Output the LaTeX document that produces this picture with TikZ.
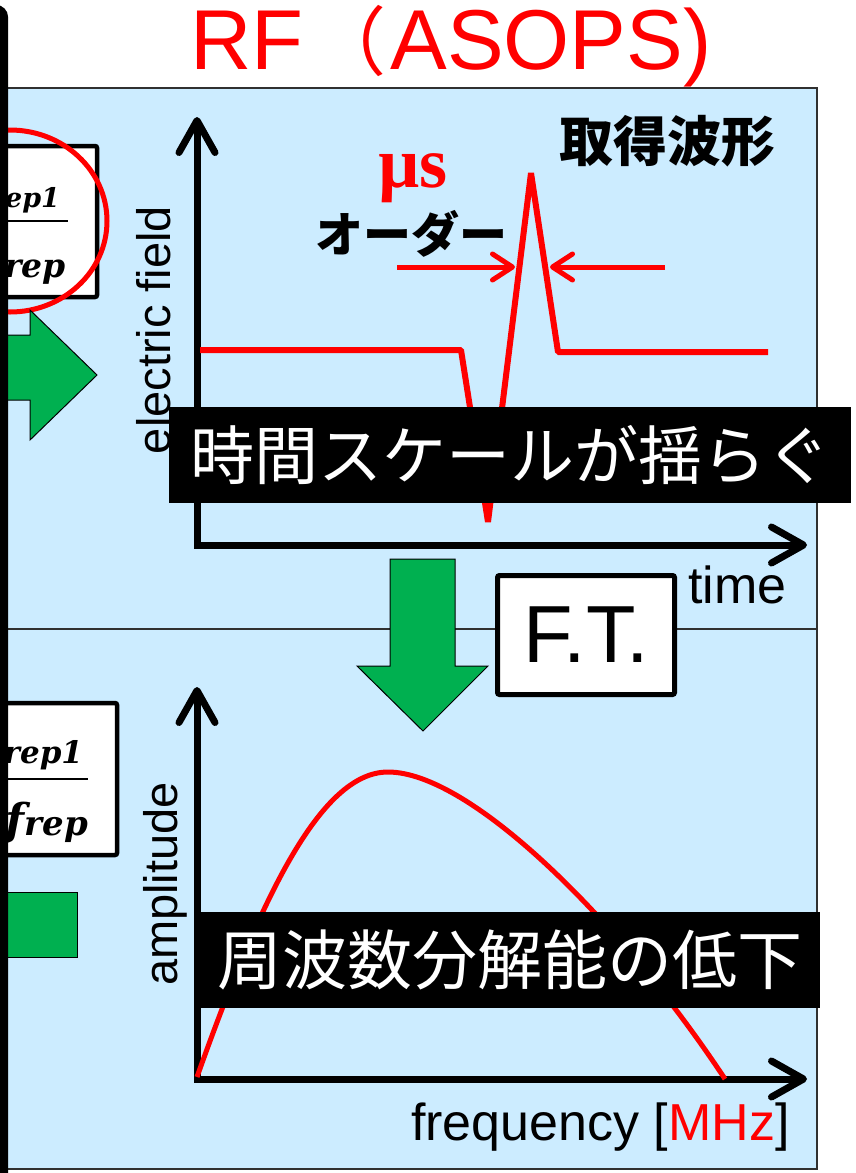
\documentclass[tikz,border=0pt]{standalone}
\usepackage{fontspec}
\setmainfont{Liberation Sans}
\newfontfamily\jp{Noto Sans CJK JP}
\newfontfamily\mathserif{DejaVu Serif}
\usetikzlibrary{arrows.meta}
\definecolor{panel}{HTML}{CCECFF}
\definecolor{grn}{HTML}{00B050}
\definecolor{edge}{HTML}{303030}
\tikzset{
  fs/.code={\fontsize{#1}{#1}\selectfont},
  txt/.style={inner sep=0pt, outer sep=0pt},
  axis/.style={line width=7pt, line cap=round, line join=miter,
    {Straight Barb[length=32pt,width=36pt,round]}-{Straight Barb[length=32pt,width=36pt,round]}},
  redarrow/.style={red, line width=5pt, -{Straight Barb[length=20pt,width=26pt,round]}},
  greenshape/.style={fill=grn, draw=black, line width=1pt},
  blackbox/.style={fill=black, text=white, inner sep=0pt, minimum height=96pt},
  fracbox/.style={fill=white, draw=black, line width=4.5pt, rounded corners=2pt},
  fractxt/.style={txt, anchor=base east, font=\mathserif\bfseries\itshape},
}
\begin{document}
\begin{tikzpicture}[x=1pt,y=-1pt]
\useasboundingbox (0,0) rectangle (856,1173);
\clip (0,0) rectangle (856,1173);
\fill[white] (0,0) rectangle (856,1173);

% panel
\draw[draw=edge, line width=2pt, fill=panel] (0,88) rectangle (817,1169);
\draw[edge, line width=2pt] (0,629) coordinate (dl) -- (817,629) coordinate (dr);

% title
\node[txt, anchor=base west, text=red, fs=85] (title) at (190,69) {RF\hspace{8pt}\smash{\jp\fontsize{75}{75}\selectfont （}\hspace{4pt}ASOPS)};

% upper-left fraction box
\draw[fracbox] (-30,146) rectangle (97,297);
\node[fractxt, fs=27] (num1) at (60,207) {ep1};
\draw[line width=2pt] (0,221) -- (68,221);
\node[fractxt, fs=33] (den1) at (66,277) {rep};
\draw[red, line width=5pt] (10,221) ellipse [x radius=97pt, y radius=91pt];

% green right arrow
\draw[greenshape] (-10,335) -- (30,335) -- (30,310) -- (97,375) -- (30,440) -- (30,400) -- (-10,400) -- cycle;

% lower-left fraction box
\draw[fracbox] (-30,703) rectangle (117,855);
\node[fractxt, fs=31] (num2) at (83,763) {rep1};
\draw[line width=2pt] (0,779) -- (88,779);
\node[fractxt, fs=34] (den2) at (88,835) {{\fontsize{44}{44}\selectfont f}rep};
\draw[greenshape] (-10,892) rectangle (77,957);

% upper graph
\draw[axis] (197,117) coordinate (ytop) -- (197,545) coordinate (o1) -- (807,545) coordinate (xr);
\draw[red, line width=6pt, line join=bevel] (200,350) -- (461,350) -- (488,522) -- (531,173) -- (558,352) -- (768,352);
\draw[redarrow] (397,267) coordinate (la) -- (515,267) coordinate (lb);
\draw[redarrow] (665,267) coordinate (ra) -- (550,267) coordinate (rb);
\node[txt, anchor=base, fs=54] (acq) at (667,161) {\jp\bfseries 取得波形};
\node[txt, anchor=base west, text=red, fs=72] (mus) at (378,187) {\fontspec{Liberation Serif}\bfseries µs};
\node[txt, anchor=base, fs=48] (order) at (411,252) {\jp\bfseries オーダー};
\node[txt, anchor=base, rotate=90, fs=47] (ef) at (170,330) {electric field};
\node[blackbox, minimum width=682pt, fs=64] (fluct) at (510,455) {\jp 時間スケールが揺らぐ};
\node[txt, anchor=base west, fs=52] (time) at (688,603) {time};

% transform
\draw[greenshape] (390,559) -- (455,559) -- (455,666) -- (488,666) -- (423,731) -- (357,666) -- (390,666) -- cycle;
\node[fill=white, draw=black, line width=5pt, rounded corners=2pt, minimum width=177pt, minimum height=119pt, inner sep=0pt, fs=81] (ft) at (586,635) {F.T.};

% lower graph
\draw[axis] (197,687) coordinate (ytop2) -- (197,1079) coordinate (o2) -- (807,1079) coordinate (xr2);
\draw[red, line width=5pt] (197,1077) .. controls (260,900) and (320,772) .. (388,772) .. controls (470,772) and (620,920) .. (725,1079);
\node[txt, anchor=base, rotate=90, fs=47] (amp) at (177,884) {amplitude};
\node[blackbox, minimum width=620pt, fs=65] (res) at (510,960) {\jp 周波数分解能の低下};
\node[txt, anchor=base west, fs=52] (freq) at (411,1140) {frequency [{\color{red}MHz}]};

% left thick frame line
\draw[line width=8pt, rounded corners=8pt] (-40,9) -- (4,9) -- (4,1200);
\end{tikzpicture}
\end{document}
